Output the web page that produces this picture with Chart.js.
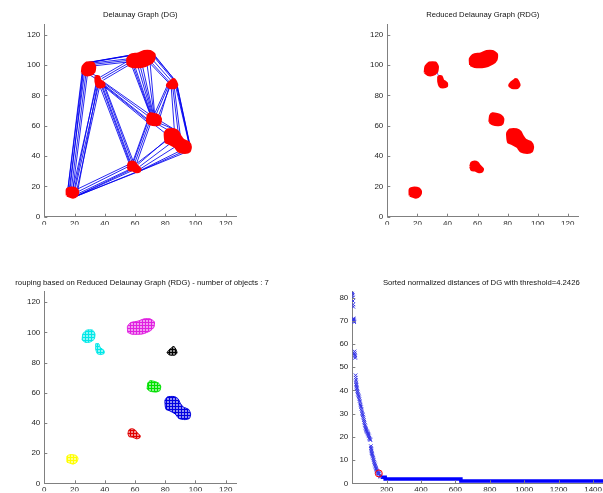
<!DOCTYPE html>
<html>
<head>
<meta charset="utf-8">
<script src="https://cdn.jsdelivr.net/npm/chart.js@4"></script>
<style>
html, body { margin: 0; padding: 0; background: #fff; }
#fig { position: relative; width: 603px; height: 493px; overflow: hidden; }
#fig canvas { position: absolute; }
</style>
</head>
<body>
<div id="fig">
  <canvas id="dg"></canvas>
  <canvas id="rdg"></canvas>
  <canvas id="groups"></canvas>
  <canvas id="dist"></canvas>
</div>
<script>
// cluster outlines (x, y)
const clusterA = [[15,14],[15,18],[17,19],[21,18.5],[22.3,16.5],[21.5,14],[19,12.7],[16.5,13.5]];
const clusterB = [[25,95],[25.5,99],[28,101.5],[32,101.5],[33.5,99],[33,95.5],[30,93.5],[27,93.5]];
const clusterC = [[34,92.5],[36,92.5],[37,90],[39.5,88],[39.5,86],[37,85.3],[35,86],[34,89]];
const clusterD = [[55.2,100],[55,104],[57,106.5],[62,107.5],[66,109],[70,109],[72.8,107],[72.5,103.5],[70,101],[65,99],[58,98.8]];
const clusterE = [[85.5,91],[87,89],[87.8,86.5],[86.5,85],[83,85],[81.2,86.5],[82.5,88.5],[84.5,90]];
const clusterF = [[68,62.5],[68.5,66.5],[70,68],[73,67.5],[75.5,66.5],[77,64.5],[76.5,61.5],[74,60.5],[70,61]];
const clusterG = [[80,51],[79.8,55],[81.5,57.3],[86,57.5],[88.5,56],[90,53],[92,50.5],[95.5,49],[96.8,46],[96,43],[93,42.2],[89,43],[86.5,46],[83,48],[80.5,49]];
const clusterH = [[55.3,33],[56,35.5],[58,36.2],[60,35.5],[61.5,33.5],[63.5,31.5],[63,30],[61,29.5],[58.5,30.5],[56,31]];
const clusters = [clusterA, clusterB, clusterC, clusterD, clusterE, clusterF, clusterG, clusterH];

// group colour of each cluster (bottom-left panel)
const groupColors = ['#ffff00', '#00e8e8', '#00e8e8', '#e020e0', '#000000', '#00e000', '#0000e0', '#e00000'];

// Delaunay edges [x1, y1, x2, y2]
const dgEdges = [
  [15.5,17,25.5,95.5],[16.5,18.5,26.5,94],[18,19,27.5,93.8],[17,18,26,97],[15.3,16,25.2,96.5],[19,18.9,28.5,93.6],
  [19,18.8,34.5,86.5],[20.5,18.5,35.5,85.5],[21.5,17.5,36.5,85.5],[22,16.5,35,86],[20,18.7,34.2,87.5],
  [21,13.5,58,30.3],[22,15,56,31],[22.3,16.5,55.5,33],[21.5,18,56,34.5],[20,13,61,29.5],[21.8,14,57,30.8],[19.5,12.8,62.5,29.8],
  [62,34.5,80.5,50.5],[63,33,83,48],[63.5,31.5,86.5,46],[63.5,30.5,89,43],[63,30,93,42.2],[62.5,29.8,91,42.5],[61,35,80,49.5],
  [59,36,68.2,61.5],[60,35.8,69,60.8],[61,35,70,60.5],[58.5,36.1,68,62.5],
  [56,35.5,37,85.3],[57,36,38.5,86],[58,36.2,39.3,86.5],[59,36,39.5,87.5],[56.5,35.8,38,85.6],
  [39.3,86,68,62.5],[39.5,87,68,64.5],[39.5,88,68.5,66.5],[39,89,69.5,67.5],[39.4,86.5,68.2,63.5],
  [37,92,55.2,102.5],[38,91,55.3,101],[39,90,56,100],
  [28,101.5,57,106.5],[30,101.6,56,106],[32,101.3,55.3,104],[33.5,99.5,55.5,102],[29,101.6,56.5,106.3],[33,100.5,55.2,103],
  [32,94,35,92.5],[30,93.5,34,91],
  [58,99,70,67.5],[60,98.8,70.5,67.8],[62,98.8,71,67.8],[65,99,72,68],[68,100,72.5,68],[70,101,73,67.5],[63.5,98.9,71.5,68],[59,98.9,70.2,67.6],
  [72.5,107,85.5,91],[72.8,105,85,90.5],[72,103,84,89.5],[71,101.5,83,88.5],[70,101,82.5,88],[72.7,106,86,90.5],
  [87.8,86.5,96.5,46],[87.5,86,96,47.5],[87,85.5,95.5,49],[87.8,87,96.8,45],
  [86,85,90,53],[85,85,88.5,56],[84,85,86,57.5],
  [83,85.2,75.5,66.5],[82,86,74,67.5],[81.5,86.8,73,68],[82.5,85.5,76.5,65.5],
  [75,61,81.5,57.3],[76.5,61.5,86,57.5],[73,60.5,80,55],[77,63,88.5,56]
];
// the few edges left in the reduced graph
const rdgEdges = [[33,95.5,34.5,91.5]];

const gridTicks = [0, 20, 40, 60, 80, 100, 120];

// sorted normalized distances (steep part, one marker each)
const sortedIdx = [1,2,3,4,5,6,7,8,9,10,11,12,14,15,16,17,18,20,21,22,23,24,25,26,27,28,30,32,34,36,38,40,42,44,46,48,50,52,54,56,58,60,62,64,66,68,70,72,74,76,78,80,82,84,86,88,90,92,94,96,98,100,102,104,106,109,110,111,112,113,114,116,118,120,122,124,126,128,130,132,134,136,138,140,142,144,146,148,150,152,154,157,160,163,165];
const sortedDist = [82.3,81.8,81,80,78.5,77,76,71,70.6,70.2,69.8,69.4,56.8,56,55.3,54.6,54,46.5,45.5,44.5,43.5,42.8,42.2,41.6,41,40.5,39.8,39.2,38.6,38,37.5,37,36.2,35.5,34.8,34,33.4,32.8,32,31.2,30.4,29.8,29.3,28.7,28,27.2,26.5,25.8,25.1,24.5,23.9,23.4,23,22.6,22.3,22,21.6,21.3,21,20.6,20.2,19.6,19.2,18.9,18.6,16,15.2,14.6,14,13.5,13,12.6,12.1,11.5,11,10.4,9.8,9.2,8.6,8.1,7.6,7.1,6.6,6.2,5.8,5.4,5.1,4.8,4.5,4.3,4.25,4.0,3.5,3.1,2.8];
// long flat runs of the sorted distances
const plateauIdx = [166, 192, 192, 632, 632, 1500];
const plateauDist = [2.6, 2.6, 1.8, 1.8, 1.0, 1.0];
const threshold = 4.2426;
const thresholdIdx = 155;
const distXTicks = [200, 400, 600, 800, 1000, 1200, 1400];
const distYTicks = [0, 10, 20, 30, 40, 50, 60, 70, 80];

const AXIS = '#808080';
const TEXT = '#262626';
const FAMILY = "'Liberation Sans', Arial, sans-serif";
const TICK_FONT = { family: FAMILY, size: 8 };
const TITLE_SIZE = 7.7;
const Y_W = 30, X_H = 8;

// matlab style ticks pointing into the axes
const innerTicks = {
  id: 'innerTicks',
  afterDraw(chart) {
    const { ctx, chartArea: a } = chart;
    const xs = chart.scales.x, ys = chart.scales.y;
    ctx.save();
    ctx.strokeStyle = AXIS;
    ctx.lineWidth = 1;
    ctx.beginPath();
    xs.ticks.forEach(t => {
      const px = Math.round(xs.getPixelForValue(t.value)) + 0.5;
      ctx.moveTo(px, a.bottom); ctx.lineTo(px, a.bottom - 3);
    });
    ys.ticks.forEach(t => {
      const py = Math.round(ys.getPixelForValue(t.value)) + 0.5;
      ctx.moveTo(a.left, py); ctx.lineTo(a.left + 3, py);
    });
    ctx.stroke();
    ctx.restore();
  }
};

function axis(min, max, ticks, isY, w) {
  return {
    type: 'linear', min, max,
    afterBuildTicks: s => { s.ticks = ticks.map(v => ({ value: v })); },
    afterFit: s => { if (isY) s.width = w; else s.height = X_H; },
    grid: { display: false, drawTicks: false },
    border: { display: true, color: AXIS, width: 1 },
    ticks: { color: TEXT, font: TICK_FONT, padding: isY ? 4 : 2, maxRotation: 0, autoSkip: false, callback: v => String(v) }
  };
}

// titleCX given: title spans wider than the axes, centred on titleCX
function makeChart(id, box, area, titleY, title, datasets, xr, xt, yr, yt, titleCX) {
  const c = document.getElementById(id);
  c.style.left = box[0] + 'px';
  c.style.top = box[1] + 'px';
  c.width = box[2];
  c.height = box[3];
  const lh = TITLE_SIZE * 1.2;
  let padL = area.L - box[0] - Y_W, padR = box[0] + box[2] - area.R, yW = Y_W, rW = 0;
  const scales = { x: axis(xr[0], xr[1], xt, false), y: null };
  if (titleCX) {
    padL = 0;
    yW = area.L - box[0];
    padR = box[2] - 2 * (titleCX - box[0]);
    rW = box[0] + box[2] - area.R - padR;
  }
  scales.y = axis(yr[0], yr[1], yt, true, yW);
  if (rW > 0) {
    scales.y2 = {
      position: 'right', display: true, grid: { display: false }, border: { display: false },
      ticks: { display: false }, afterFit: s => { s.width = rW; }
    };
  }
  return new Chart(c, {
    type: 'scatter',
    data: { datasets },
    options: {
      responsive: false,
      animation: false,
      events: [],
      layout: { padding: { left: padL, right: padR, top: 0, bottom: box[1] + box[3] - area.B - X_H } },
      plugins: {
        legend: { display: false },
        tooltip: { enabled: false },
        title: {
          display: true, text: title, fullSize: !!titleCX, color: '#111',
          font: { family: FAMILY, size: TITLE_SIZE, weight: 'normal', lineHeight: 1.2 },
          padding: { top: titleY - box[1] - lh / 2, bottom: area.T - titleY - lh / 2 }
        }
      },
      scales
    },
    plugins: [innerTicks]
  });
}

function blob(outline, line, fillStyle, width) {
  const pts = outline.concat([outline[0]]).map(p => ({ x: p[0], y: p[1] }));
  return {
    data: pts, showLine: true, fill: 'shape', backgroundColor: fillStyle,
    borderColor: line, borderWidth: width, pointRadius: 0, tension: 0.2, order: 0
  };
}

function edge(e, w) {
  return {
    data: [{ x: e[0], y: e[1] }, { x: e[2], y: e[3] }], showLine: true,
    borderColor: '#0000f0', borderWidth: w, pointRadius: 0, order: 1
  };
}

// grid of "+" markers for the grouped clusters
function crossPattern(color) {
  const p = document.createElement('canvas');
  p.width = 3; p.height = 3;
  const g = p.getContext('2d');
  g.fillStyle = '#ffffff';
  g.fillRect(0, 0, 3, 3);
  g.globalAlpha = 0.45;
  g.fillStyle = color;
  g.fillRect(0, 0, 3, 3);
  g.globalAlpha = 1;
  g.fillRect(0, 1, 3, 1);
  g.fillRect(1, 0, 1, 3);
  return g.createPattern(p, 'repeat');
}

const topArea = { T: 24, B: 216.7 };
const botArea = { T: 291.7, B: 483.3 };
const R127 = [0, 127];

makeChart('dg', [0, 0, 300, 246], { L: 44.3, R: 236.3, ...topArea }, 15, 'Delaunay Graph (DG)',
  clusters.map(cl => blob(cl, '#ff0000', '#ff0000', 2.5)).concat(dgEdges.map(e => edge(e, 0.85))),
  R127, gridTicks, R127, gridTicks);

makeChart('rdg', [300, 0, 303, 246], { L: 387.3, R: 578.3, ...topArea }, 15, 'Reduced Delaunay Graph (RDG)',
  clusters.map(cl => blob(cl, '#ff0000', '#ff0000', 2.5)).concat(rdgEdges.map(e => edge(e, 0.6))),
  R127, gridTicks, R127, gridTicks);

makeChart('groups', [0, 246, 300, 247], { L: 44.3, R: 236.3, ...botArea }, 282.7,
  'rouping based on Reduced Delaunay Graph (RDG) - number of objects : 7',
  clusters.map((cl, i) => blob(cl, groupColors[i], crossPattern(groupColors[i]), 1)),
  R127, gridTicks, R127, gridTicks, 142);

makeChart('dist', [300, 246, 320, 247], { L: 352.3, R: 610.3, ...botArea }, 282.7,
  'Sorted normalized distances of DG with threshold=4.2426',
  [
    {
      data: [{ x: thresholdIdx, y: threshold }], pointStyle: 'circle', pointRadius: 3.5,
      borderColor: '#ff0000', backgroundColor: 'rgba(0,0,0,0)', borderWidth: 1, order: 0
    },
    {
      data: sortedIdx.map((x, i) => ({ x, y: sortedDist[i] })), pointStyle: 'crossRot',
      pointRadius: 2.5, borderColor: '#3636e8', borderWidth: 1, order: 1
    },
    {
      data: plateauIdx.map((x, i) => ({ x, y: plateauDist[i] })), showLine: true,
      borderColor: '#0000ff', borderWidth: 3.5, pointRadius: 0, order: 1
    }
  ],
  [1, 1500], distXTicks, [0, 82.5], distYTicks);
</script>
</body>
</html>
